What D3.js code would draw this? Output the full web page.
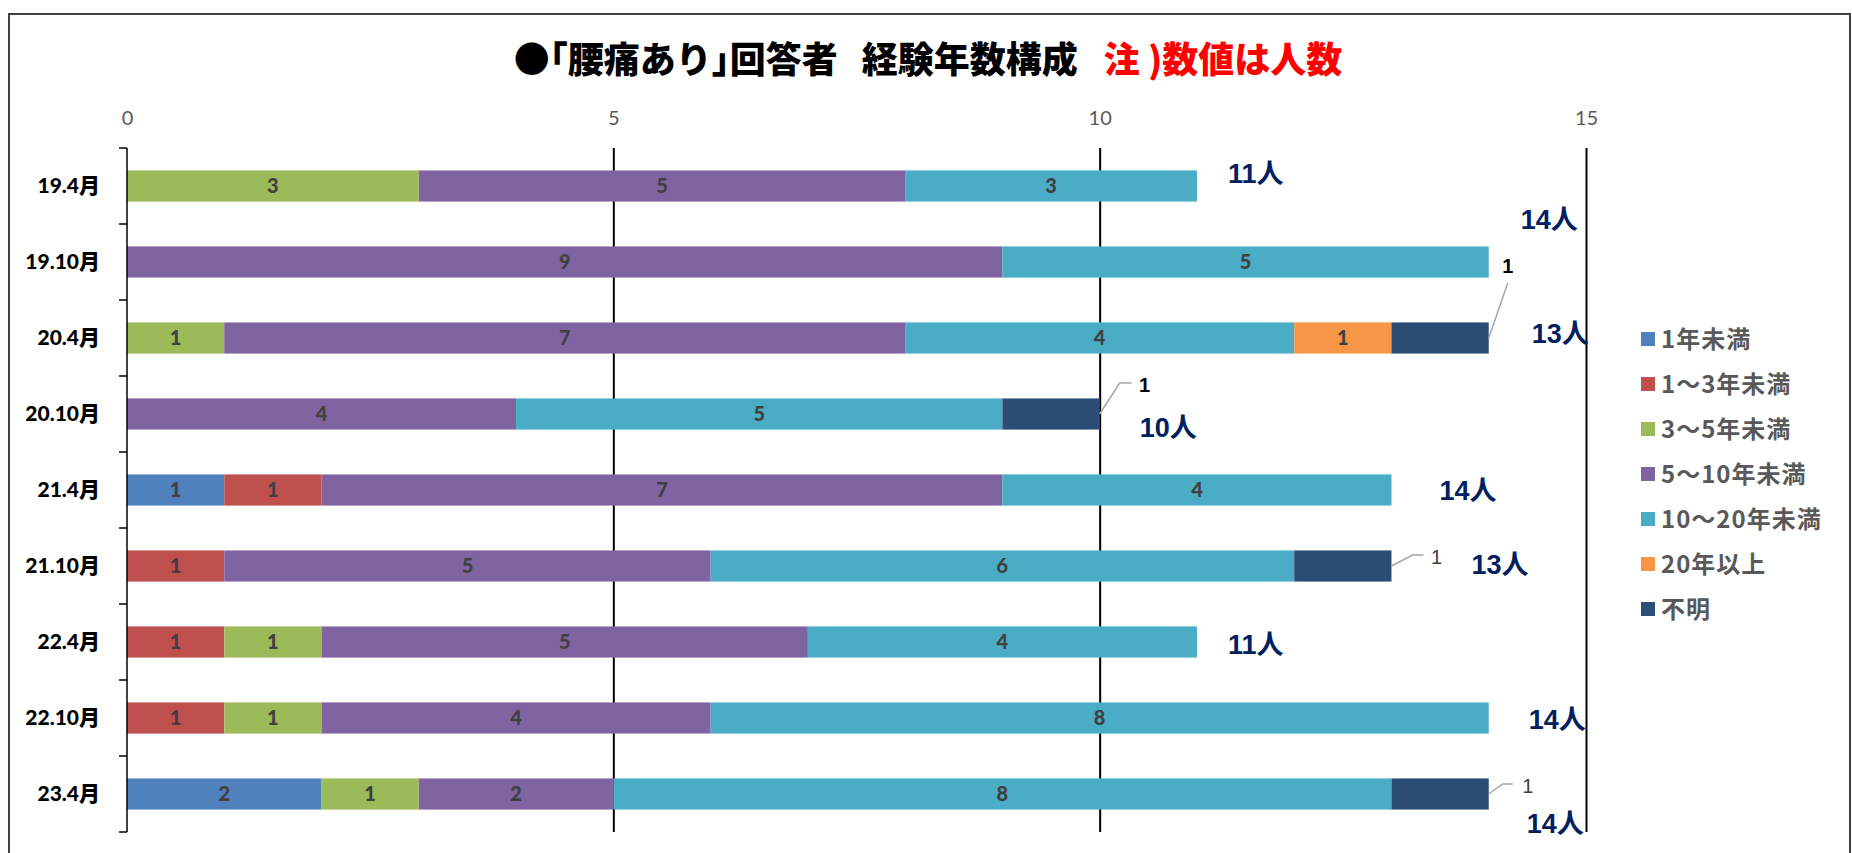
<!DOCTYPE html>
<html>
<head>
<meta charset="utf-8">
<script src="https://cdn.jsdelivr.net/npm/d3@7"></script>
<style>
  body { margin: 0; background: #fff; }
  svg { display: block; }
</style>
</head>
<body>
<svg id="chart"></svg>
<script>
// categories (survey rounds)
const categories = ["19.4月", "19.10月", "20.4月", "20.10月", "21.4月", "21.10月", "22.4月", "22.10月", "23.4月"];

// series names, bottom-to-top stacking order
const seriesNames = ["1年未満", "1～3年未満", "3～5年未満", "5～10年未満", "10～20年未満", "20年以上", "不明"];

// counts per series
const under1 = [0, 0, 0, 0, 1, 0, 0, 0, 2];
const y1to3 = [0, 0, 0, 0, 1, 1, 1, 1, 0];
const y3to5 = [3, 0, 1, 0, 0, 0, 1, 1, 1];
const y5to10 = [5, 9, 7, 4, 7, 5, 5, 4, 2];
const y10to20 = [3, 5, 4, 5, 4, 6, 4, 8, 8];
const over20 = [0, 0, 1, 0, 0, 0, 0, 0, 0];
const unknown = [0, 0, 1, 1, 0, 1, 0, 0, 1];

// total labels as written on the chart
const totalLabels = ["11人", "14人", "13人", "10人", "14人", "13人", "11人", "14人", "14人"];

const xTicks = [0, 5, 10, 15];

const colors = ["#4F81BD", "#C0504D", "#9BBB59", "#8064A2", "#4BACC6", "#F79646", "#2C4D75"];

// hand placed label layout (pixel offsets from the bar end)
const totalOffsets = [[31, -13], [32, -43], [43, -5], [40, 13], [48, 0], [80, -2], [31, 2], [40, 1], [38, 29]];
const calloutLayout = [
  { cat: "20.4月", line: [[0, 0], [19, -55]], label: [19, -72], bold: true },
  { cat: "20.10月", line: [[0, 0], [20, -31], [32, -31]], label: [45, -29], bold: true },
  { cat: "21.10月", line: [[0, 0], [21, -11], [32, -11]], label: [45, -9], bold: false },
  { cat: "23.4月", line: [[0, 0], [14, -10], [24, -10]], label: [39, -8], bold: false }
];

const width = 1852, height = 853;
const svg = d3.select("#chart").attr("width", width).attr("height", height);

// outer frame
svg.append("rect")
  .attr("x", 9).attr("y", 14)
  .attr("width", 1841).attr("height", 900)
  .attr("fill", "none")
  .attr("stroke", "#404040")
  .attr("stroke-width", 2);

// title
const title = svg.append("text")
  .attr("x", 928).attr("y", 73)
  .attr("text-anchor", "middle")
  .style("font-family", "'Noto Sans CJK JP', sans-serif")
  .style("font-weight", 900)
  .style("font-size", "36px");
title.append("tspan").attr("fill", "#000").text("●｢腰痛あり｣回答者");
title.append("tspan").attr("fill", "#000").attr("dx", 24).text("経験年数構成");
title.append("tspan").attr("fill", "#FF0000").attr("dx", 26).text("注 )数値は人数");

const rows = categories.map((c, i) => ({
  cat: c,
  "1年未満": under1[i],
  "1～3年未満": y1to3[i],
  "3～5年未満": y3to5[i],
  "5～10年未満": y5to10[i],
  "10～20年未満": y10to20[i],
  "20年以上": over20[i],
  "不明": unknown[i]
}));

const stacked = d3.stack().keys(seriesNames)(rows);

const x = d3.scaleLinear().domain([0, 15]).range([127, 1586]);
const y = d3.scaleBand().domain(categories).range([148, 832])
  .paddingInner(0.59).paddingOuter(0.295);

// vertical grid + top tick labels
const xAxis = svg.append("g")
  .attr("transform", "translate(0,148)")
  .call(d3.axisTop(x).tickValues(xTicks).tickSize(-(832 - 148)).tickPadding(23));
xAxis.select(".domain").remove();
xAxis.selectAll("line")
  .attr("stroke", "#000")
  .attr("stroke-width", d => (d === 0 ? 0 : 2));
xAxis.selectAll("text")
  .attr("fill", "#595959")
  .style("font-family", "Lato, sans-serif")
  .style("font-size", "20px");

// bars
svg.append("g")
  .selectAll("g")
  .data(stacked)
  .join("g")
  .attr("fill", (d, i) => colors[i])
  .selectAll("rect")
  .data(d => d)
  .join("rect")
  .attr("x", d => x(d[0]))
  .attr("y", d => y(d.data.cat))
  .attr("width", d => x(d[1]) - x(d[0]))
  .attr("height", y.bandwidth());

// value labels inside the segments (不明 uses callouts)
stacked.forEach((s, i) => {
  if (seriesNames[i] === "不明") return;
  svg.append("g")
    .selectAll("text")
    .data(s.filter(d => d[1] - d[0] > 0))
    .join("text")
    .attr("x", d => (x(d[0]) + x(d[1])) / 2)
    .attr("y", d => y(d.data.cat) + y.bandwidth() / 2)
    .attr("dy", "0.36em")
    .attr("text-anchor", "middle")
    .attr("fill", "#404040")
    .style("font-family", "Lato, sans-serif")
    .style("font-weight", 900)
    .style("font-size", "20px")
    .text(d => d[1] - d[0]);
});

// y axis: line, boundary ticks, labels
const yAxis = svg.append("g")
  .attr("transform", "translate(127,0)")
  .call(d3.axisLeft(y).tickSize(0).tickPadding(27));
yAxis.select(".domain").remove();
yAxis.selectAll("text")
  .attr("fill", "#000")
  .style("font-family", "Lato, 'Noto Sans CJK JP', sans-serif")
  .style("font-weight", 900)
  .style("font-size", "21px");

const boundaries = categories.map(c => y(c) - (y.step() - y.bandwidth()) / 2)
  .concat([y(categories[categories.length - 1]) + y.bandwidth() + (y.step() - y.bandwidth()) / 2]);
svg.append("g")
  .selectAll("line")
  .data(boundaries)
  .join("line")
  .attr("x1", 119).attr("x2", 127)
  .attr("y1", d => d).attr("y2", d => d)
  .attr("stroke", "#000")
  .attr("stroke-width", 1.5);
svg.append("line")
  .attr("x1", 127).attr("x2", 127)
  .attr("y1", boundaries[0]).attr("y2", boundaries[boundaries.length - 1])
  .attr("stroke", "#000")
  .attr("stroke-width", 1.5);

// callouts for 不明
const unknownStack = stacked[seriesNames.indexOf("不明")];
calloutLayout.forEach(c => {
  const d = unknownStack.find(e => e.data.cat === c.cat);
  const ax = x(d[1]);
  const ay = y(c.cat) + y.bandwidth() / 2;
  svg.append("polyline")
    .attr("points", c.line.map(p => [ax + p[0], ay + p[1]].join(",")).join(" "))
    .attr("fill", "none")
    .attr("stroke", "#A6A6A6")
    .attr("stroke-width", 1.5);
  svg.append("text")
    .attr("x", ax + c.label[0])
    .attr("y", ay + c.label[1])
    .attr("dy", "0.36em")
    .attr("text-anchor", "middle")
    .attr("fill", c.bold ? "#000" : "#404040")
    .style("font-family", "'Liberation Sans', Arial, sans-serif")
    .style("font-weight", c.bold ? 700 : 400)
    .style("font-size", "20px")
    .text(d[1] - d[0]);
});

// totals
const topStack = stacked[stacked.length - 1];
svg.append("g")
  .selectAll("text")
  .data(topStack)
  .join("text")
  .attr("x", (d, i) => x(d[1]) + totalOffsets[i][0])
  .attr("y", (d, i) => y(d.data.cat) + y.bandwidth() / 2 + totalOffsets[i][1])
  .attr("dy", "0.36em")
  .attr("fill", "#002060")
  .style("font-family", "'Liberation Sans', 'Noto Sans CJK JP', sans-serif")
  .style("font-weight", 700)
  .style("font-size", "27px")
  .text((d, i) => totalLabels[i]);

// legend
const legend = svg.append("g")
  .selectAll("g")
  .data(seriesNames)
  .join("g")
  .attr("transform", (d, i) => `translate(1641,${339 + i * 45})`);
legend.append("rect")
  .attr("x", 0).attr("y", -7)
  .attr("width", 14).attr("height", 14)
  .attr("fill", (d, i) => colors[i]);
legend.append("text")
  .attr("x", 20)
  .attr("dy", "0.36em")
  .attr("fill", "#595959")
  .style("font-family", "'Noto Sans CJK JP', sans-serif")
  .style("font-weight", 700)
  .style("font-size", "24px")
  .style("letter-spacing", "1px")
  .text(d => d);
</script>
</body>
</html>
